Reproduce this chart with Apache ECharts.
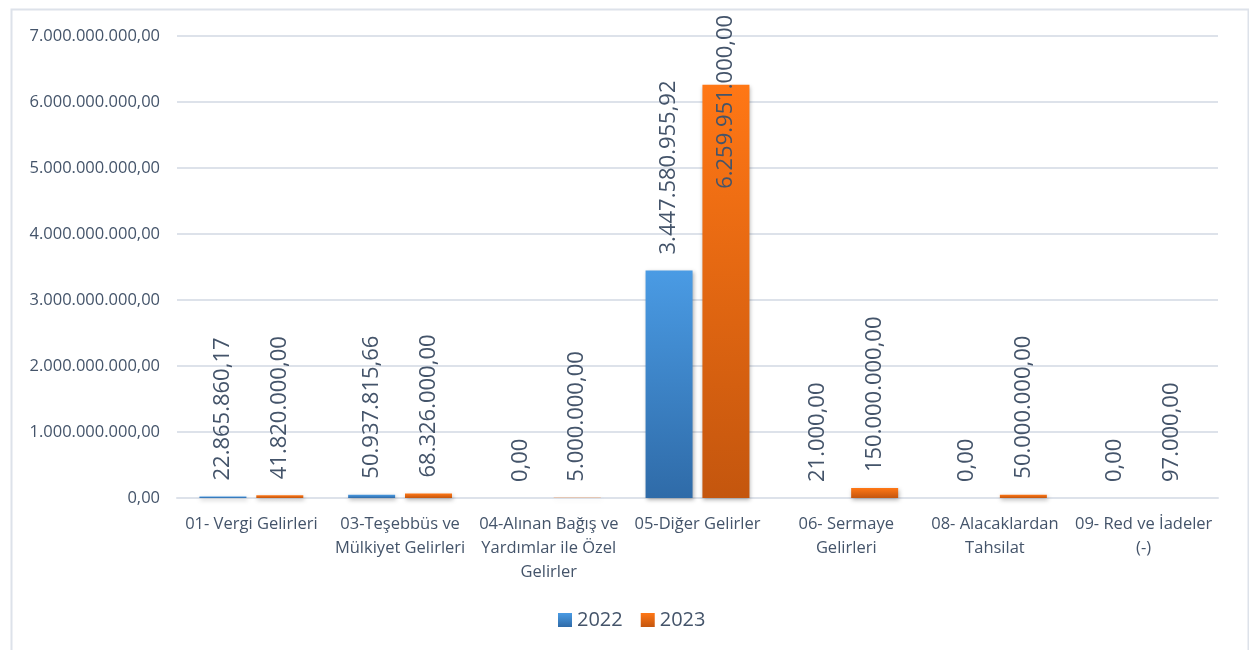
<!DOCTYPE html>
<html>
<head>
<meta charset="utf-8">
<script src="https://cdn.jsdelivr.net/npm/echarts@6/dist/echarts.min.js"></script>
<style>
html,body{margin:0;padding:0;background:#fff;}
#main{width:1249px;height:650px;}
</style>
</head>
<body>
<div id="main"></div>
<script>
var categories = [
  "01- Vergi Gelirleri",
  "03-Teşebbüs ve\nMülkiyet Gelirleri",
  "04-Alınan Bağış ve\nYardımlar ile Özel\nGelirler",
  "05-Diğer Gelirler",
  "06- Sermaye\nGelirleri",
  "08- Alacaklardan\nTahsilat",
  "09- Red ve İadeler\n(-)"
];
var values2022 = [22865860.17, 50937815.66, 0, 3447580955.92, 21000, 0, 0];
var values2023 = [41820000, 68326000, 5000000, 6259951000, 150000000, 50000000, 97000];
var seriesNames = ["2022", "2023"];
var yTicks = { min: 0, max: 7000000000, interval: 1000000000 };

function trFormat(v) {
  var s = Number(v).toFixed(2);
  var parts = s.split(".");
  var intPart = parts[0].replace(/\B(?=(\d{3})+(?!\d))/g, ".");
  return intPart + "," + parts[1];
}

var textColor = "#44546A";
var fontFam = "'Open Sans', sans-serif";
var gridColor = "#DDE2EA";

var blueGrad = new echarts.graphic.LinearGradient(0, 0, 0, 1, [
  { offset: 0, color: "#4A9BE4" },
  { offset: 1, color: "#2F6BA8" }
]);
var orangeGrad = new echarts.graphic.LinearGradient(0, 0, 0, 1, [
  { offset: 0, color: "#FF7715" },
  { offset: 1, color: "#C4560E" }
]);

function buildData(vals) {
  var maxV = yTicks.max;
  return vals.map(function (v) {
    if (v / maxV > 0.75) {
      return {
        value: v,
        label: { position: ["50%", -70], align: "right" }
      };
    }
    return v;
  });
}

var labelCfg = {
  show: true,
  position: "top",
  distance: 16,
  rotate: 90,
  align: "left",
  verticalAlign: "middle",
  color: textColor,
  fontFamily: fontFam,
  fontSize: 22,
  formatter: function (p) { return trFormat(p.value); }
};

var shadow = {
  shadowBlur: 4,
  shadowColor: "rgba(0,0,0,0.3)",
  shadowOffsetX: 1,
  shadowOffsetY: 2
};

var chart = echarts.init(document.getElementById("main"));
chart.setOption({
  animation: false,
  backgroundColor: "#fff",
  graphic: [{
    type: "rect",
    left: 9, top: 7,
    shape: { width: 1237, height: 700 },
    style: { fill: "none", stroke: gridColor, lineWidth: 2 },
    silent: true
  }],
  grid: { left: 177, right: 31, top: 36, bottom: 152, containLabel: false },
  legend: {
    data: seriesNames,
    left: 553,
    top: 605,
    icon: "rect",
    itemWidth: 14,
    itemHeight: 14,
    itemGap: 18,
    textStyle: { color: textColor, fontFamily: fontFam, fontSize: 20 }
  },
  xAxis: {
    type: "category",
    data: categories,
    axisTick: { show: false },
    axisLine: { show: true, lineStyle: { color: gridColor, width: 2 } },
    axisLabel: {
      interval: 0,
      color: textColor,
      fontFamily: fontFam,
      fontSize: 16.5,
      lineHeight: 24,
      margin: 14
    }
  },
  yAxis: {
    type: "value",
    min: yTicks.min,
    max: yTicks.max,
    interval: yTicks.interval,
    axisLine: { show: false },
    axisTick: { show: false },
    splitLine: { lineStyle: { color: gridColor, width: 2 } },
    axisLabel: {
      color: textColor,
      fontFamily: fontFam,
      fontSize: 16.5,
      margin: 17,
      formatter: function (v) { return trFormat(v); }
    }
  },
  series: [
    {
      name: seriesNames[0],
      type: "bar",
      data: buildData(values2022),
      barWidth: 47,
      barGap: "21%",
      itemStyle: Object.assign({ color: blueGrad }, shadow),
      label: labelCfg
    },
    {
      name: seriesNames[1],
      type: "bar",
      data: buildData(values2023),
      barWidth: 47,
      barGap: "21%",
      itemStyle: Object.assign({ color: orangeGrad }, shadow),
      label: labelCfg
    }
  ]
});
</script>
</body>
</html>
